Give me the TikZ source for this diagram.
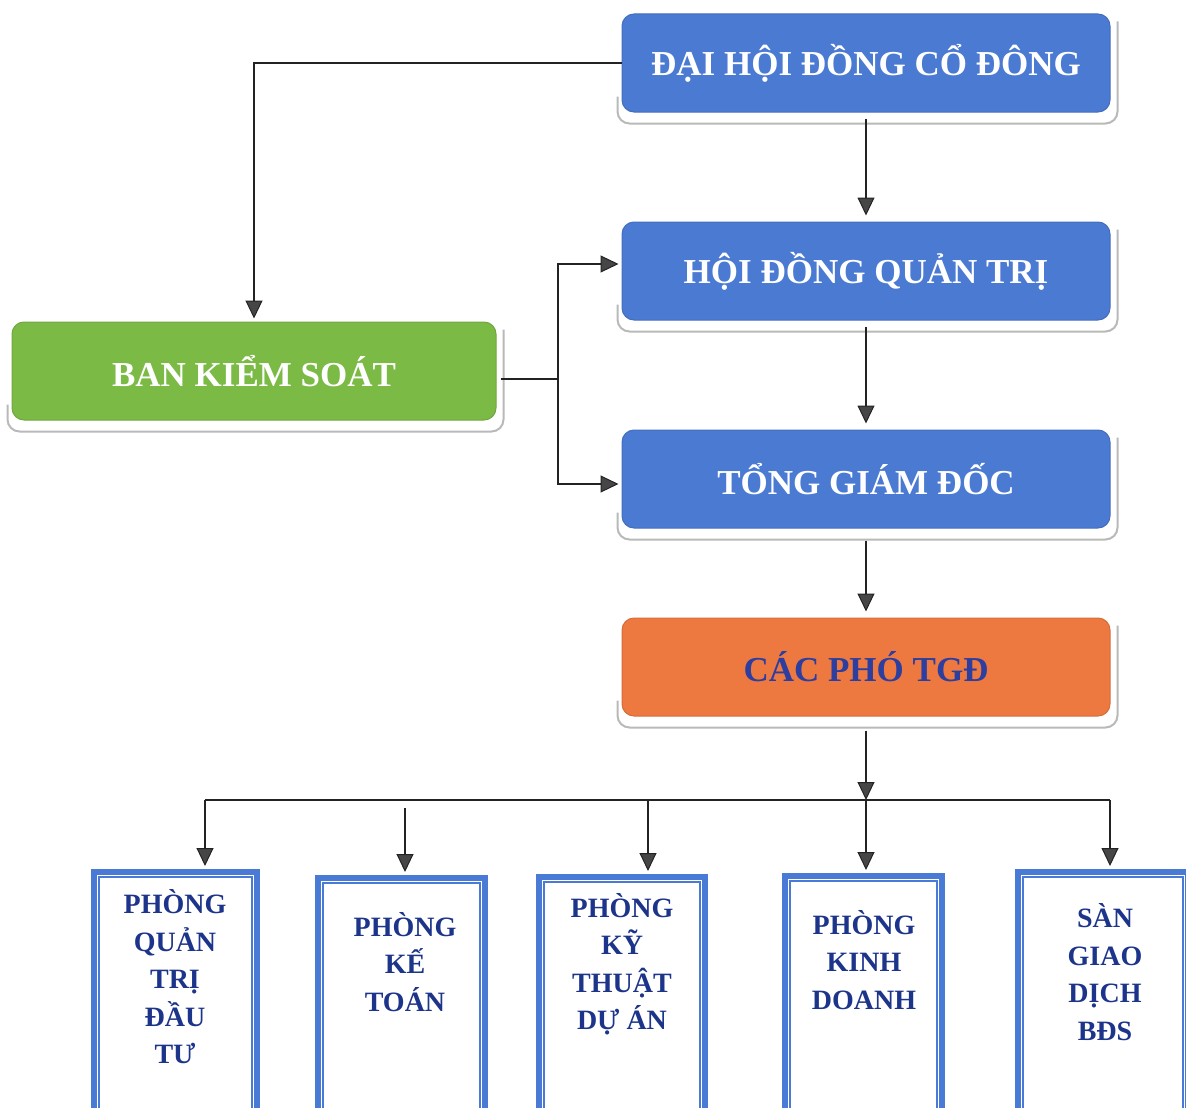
\documentclass[tikz,border=0pt]{standalone}
\usepackage{fontspec}
\setmainfont{Liberation Serif}
\usetikzlibrary{arrows.meta,calc}
\definecolor{boxblue}{RGB}{74,122,210}
\definecolor{boxgreen}{RGB}{124,186,70}
\definecolor{boxorange}{RGB}{237,121,64}
\definecolor{frameblue}{RGB}{72,122,214}
\definecolor{navy}{RGB}{28,52,138}
\definecolor{phoblue}{RGB}{44,62,160}
\definecolor{linegray}{RGB}{35,35,35}
\definecolor{tipgray}{RGB}{70,70,70}
\newcommand\boxshadow[1]{\draw[shadowline] ([shift={(-4,-16)}]#1.south west) -- ([shift={(-4,11)}]#1.south west) -- ([shift={(7,11)}]#1.south east) -- ([shift={(7,8)}]#1.north east);}
\newcommand\innerframe[1]{\draw[innerline] ([shift={(8,8)}]#1.north west) rectangle ([shift={(-8,-8)}]#1.south east);}
\tikzset{
  topbox/.style={rectangle, rounded corners=12pt, inner sep=0pt, minimum width=488pt, minimum height=98pt,
    font=\bfseries\fontsize{35}{40}\selectfont, text=white},
  shadowline/.style={draw=gray!55, line width=2pt, rounded corners=12pt},
  pframe/.style={rectangle, draw=frameblue, line width=6pt, anchor=north, minimum height=300pt, inner sep=0pt},
  innerline/.style={draw=frameblue, line width=2pt},
  ptext/.style={align=center, inner sep=0pt, text=navy, font=\bfseries\fontsize{28}{37.5}\selectfont},
  conn/.style={draw=linegray, line width=2pt},
  arr/.style={conn, line width=2.4pt, shorten >=3pt, -{Triangle[length=18pt,width=17pt,fill=tipgray,line width=1pt]}},
}
\begin{document}
\begin{tikzpicture}[x=1pt,y=-1pt]
\useasboundingbox (0,0) rectangle (1186,1108);
\clip (0,0) rectangle (1186,1108);

% top boxes
\node[topbox, fill=boxblue, draw=boxblue!90!black, line width=1pt] (dh) at (866,63) {ĐẠI HỘI ĐỒNG CỔ ĐÔNG};
\node[topbox, fill=boxblue, draw=boxblue!90!black, line width=1pt] (hd) at (866,271) {HỘI ĐỒNG QUẢN TRỊ};
\node[topbox, fill=boxblue, draw=boxblue!90!black, line width=1pt] (tg) at (866,479) {TỔNG GIÁM ĐỐC};
\node[topbox, fill=boxorange, draw=boxorange!90!black, line width=1pt, text=phoblue] (cp) at (866,667) {CÁC PHÓ TGĐ};
\node[topbox, fill=boxgreen, draw=boxgreen!90!black, line width=1pt, minimum width=484pt] (bk) at (254,371) {BAN KIỂM SOÁT};
\boxshadow{dh}
\boxshadow{hd}
\boxshadow{tg}
\boxshadow{cp}
\boxshadow{bk}

% bottom frames
\node[pframe, minimum width=163pt] (p1) at (175.5,869) {};
\node[pframe, minimum width=167pt] (p2) at (401.5,875) {};
\node[pframe, minimum width=166pt] (p3) at (622,874) {};
\node[pframe, minimum width=157pt] (p4) at (863.5,873) {};
\node[pframe, minimum width=170pt] (p5) at (1103,869) {};
\innerframe{p1}
\innerframe{p2}
\innerframe{p3}
\innerframe{p4}
\innerframe{p5}

\node[ptext] (t1) at (175,977) {PHÒNG\\QUẢN\\TRỊ\\ĐẦU\\TƯ};
\node[ptext] (t2) at (405,962) {PHÒNG\\KẾ\\TOÁN};
\node[ptext] (t3) at (622,964) {PHÒNG\\KỸ\\THUẬT\\DỰ ÁN};
\node[ptext] (t4) at (864,960) {PHÒNG\\KINH\\DOANH};
\node[ptext] (t5) at (1105,972) {SÀN\\GIAO\\DỊCH\\BĐS};

% connectors
\draw[arr] (dh.west) -| (bk.north);
\draw[arr, shorten >=6pt] ([shift={(0,6)}]dh.south) -- (hd.north);
\draw[arr, shorten >=6pt] ([shift={(0,6)}]hd.south) -- (tg.north);
\draw[arr, shorten >=6pt] ([shift={(0,12)}]tg.south) -- (cp.north);

\coordinate (j) at (558,379);
\draw[conn] ([shift={(4,8)}]bk.east) -- (j);
\draw[arr] (j) |- ([shift={(0,-7)}]hd.west);
\draw[arr] (j) |- ([shift={(0,5)}]tg.west);

\coordinate (bm) at (866,800);
\coordinate (b1) at (205,800);
\coordinate (b5) at (1110,800);
\coordinate (k2) at (405,808);
\coordinate (b3) at (648,800);
\draw[conn] (b1) -- (b5);
\draw[arr, shorten >=0pt] ([shift={(0,14)}]cp.south) -- (bm);
\draw[arr] (bm) -- (bm |- p4.north);
\draw[arr] (b1) -- (b1 |- p1.north);
\draw[arr] (k2) -- (k2 |- p2.north);
\draw[arr] (b3) -- (b3 |- p3.north);
\draw[arr] (b5) -- (b5 |- p5.north);
\end{tikzpicture}
\end{document}
